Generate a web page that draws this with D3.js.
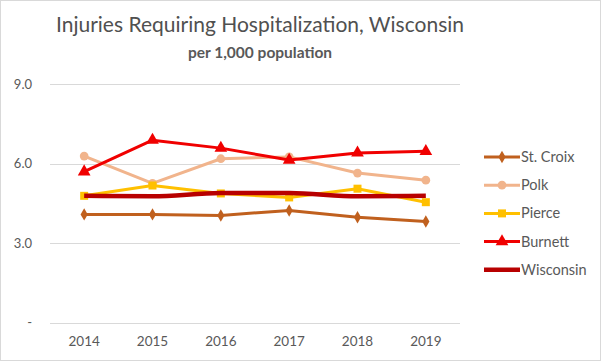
<!DOCTYPE html>
<html>
<head>
<meta charset="utf-8">
<script src="https://cdn.jsdelivr.net/npm/d3@7"></script>
<style>
  body { margin: 0; background: #fff; }
  text { font-family: Lato, sans-serif; fill: #595959; }
</style>
</head>
<body>
<div id="chart"></div>
<script>
// data
var years = ["2014", "2015", "2016", "2017", "2018", "2019"];
var stCroix = [4.08, 4.08, 4.04, 4.23, 3.97, 3.81];
var polk = [6.28, 5.25, 6.18, 6.25, 5.64, 5.37];
var pierce = [4.78, 5.17, 4.87, 4.72, 5.05, 4.54];
var burnett = [5.69, 6.88, 6.58, 6.13, 6.40, 6.46];
var wisconsin = [4.78, 4.76, 4.89, 4.89, 4.76, 4.78];
var yTicks = [0, 3, 6, 9];

var series = [
  { name: "St. Croix", values: stCroix, color: "#C0601E", marker: "diamond", width: 3 },
  { name: "Polk", values: polk, color: "#F1B48C", marker: "circle", width: 3 },
  { name: "Pierce", values: pierce, color: "#FFC000", marker: "square", width: 3 },
  { name: "Burnett", values: burnett, color: "#F00000", marker: "triangle", width: 3 },
  { name: "Wisconsin", values: wisconsin, color: "#B80000", marker: null, width: 4.5 }
];

var svgWidth = 601, svgHeight = 361;
var svg = d3.select("#chart").append("svg")
  .attr("width", svgWidth)
  .attr("height", svgHeight);

// outer border
svg.append("rect")
  .attr("x", 0.5).attr("y", 0.5)
  .attr("width", svgWidth - 1).attr("height", svgHeight - 1)
  .attr("fill", "#fff").attr("stroke", "#D9D9D9");

var x = d3.scaleBand().domain(years).range([50, 460]);
var y = d3.scaleLinear().domain([0, 9]).range([322.5, 84]);

// title
svg.append("text")
  .attr("x", 260).attr("y", 32)
  .attr("text-anchor", "middle")
  .style("font-size", "21px")
  .style("fill", "#505050")
  .text("Injuries Requiring Hospitalization, Wisconsin");
svg.append("text")
  .attr("x", 260).attr("y", 58)
  .attr("text-anchor", "middle")
  .style("font-size", "15.5px")
  .style("font-weight", "bold")
  .text("per 1,000 population");

// gridlines
svg.append("g").selectAll("line")
  .data(yTicks)
  .enter().append("line")
  .attr("x1", 50).attr("x2", 460)
  .attr("y1", d => Math.round(y(d)) + 0.5)
  .attr("y2", d => Math.round(y(d)) + 0.5)
  .attr("stroke", "#D9D9D9");

// y axis labels
svg.append("g").selectAll("text")
  .data(yTicks)
  .enter().append("text")
  .attr("x", 32)
  .attr("y", d => y(d) + 4.5)
  .attr("text-anchor", "end")
  .style("font-size", "13px")
  .text(d => d === 0 ? "-" : d3.format(".1f")(d));

// x axis labels
var xAxis = d3.axisBottom(x).tickSize(0).tickPadding(14);
var gx = svg.append("g")
  .attr("transform", "translate(0,322.5)")
  .call(xAxis);
gx.select(".domain").remove();
gx.selectAll("text")
  .style("font-size", "13.5px")
  .attr("fill", "#595959")
  .style("font-family", "Lato, sans-serif");

var cx = d => x(d) + x.bandwidth() / 2;

function symbolFor(m) {
  if (m === "diamond") return d3.symbol().type(d3.symbolDiamond).size(45)();
  if (m === "circle") return d3.symbol().type(d3.symbolCircle).size(60)();
  if (m === "square") return d3.symbol().type(d3.symbolSquare).size(64)();
  if (m === "triangle") return d3.symbol().type(d3.symbolTriangle).size(70)();
  return null;
}

// lines
series.forEach(function(s) {
  var line = d3.line()
    .x((d, i) => cx(years[i]))
    .y(d => y(d))
    .curve(s.name === "Wisconsin" ? d3.curveMonotoneX : d3.curveLinear);

  svg.append("path")
    .datum(s.values)
    .attr("fill", "none")
    .attr("stroke", s.color)
    .attr("stroke-width", s.width)
    .attr("stroke-linejoin", "round")
    .attr("d", line);

  if (s.marker) {
    svg.append("g").selectAll("path")
      .data(s.values)
      .enter().append("path")
      .attr("d", symbolFor(s.marker))
      .attr("transform", (d, i) => `translate(${cx(years[i])},${y(d)})`)
      .attr("fill", s.color);
  }
});

// legend
var legend = svg.append("g").selectAll("g")
  .data(series)
  .enter().append("g")
  .attr("transform", (d, i) => `translate(484,${157 + i * 28.2})`);

legend.append("line")
  .attr("x1", 0).attr("x2", 36)
  .attr("stroke", d => d.color)
  .attr("stroke-width", d => d.width);

legend.filter(d => d.marker).append("path")
  .attr("d", d => symbolFor(d.marker))
  .attr("transform", "translate(18,0)")
  .attr("fill", d => d.color);

legend.append("text")
  .attr("x", 37).attr("y", 5)
  .style("font-size", "14.5px")
  .text(d => d.name);
</script>
</body>
</html>
